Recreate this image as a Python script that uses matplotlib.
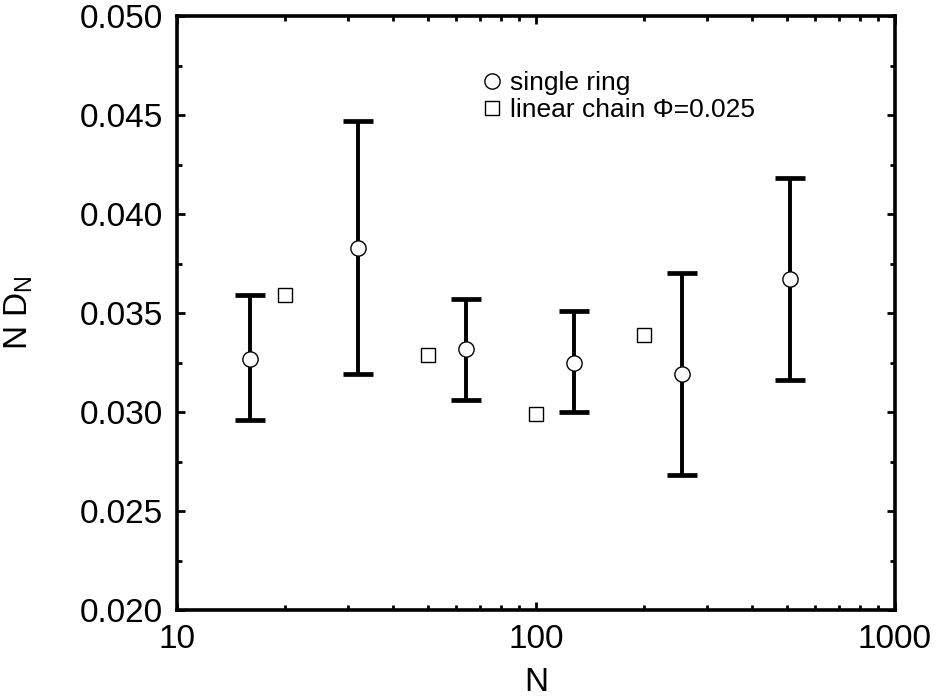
import numpy as np
import matplotlib
matplotlib.use("Agg")
import matplotlib.pyplot as plt
import matplotlib.ticker as ticker

plt.rcParams["font.family"] = ["Liberation Sans", "DejaVu Sans"]
plt.rcParams["mathtext.fontset"] = "custom"
plt.rcParams["mathtext.rm"] = "Liberation Sans"
plt.rcParams["mathtext.it"] = "Liberation Sans"

# single ring: N, N*D_N and error bar ends
ring_n = [16, 32, 64, 128, 256, 512]
ring_y = [0.0327, 0.0383, 0.0332, 0.0325, 0.0319, 0.0367]
ring_lo = [0.0296, 0.0319, 0.0306, 0.0300, 0.0268, 0.0316]
ring_hi = [0.0359, 0.0447, 0.0357, 0.0351, 0.0370, 0.0418]

# linear chain, phi = 0.025
chain_n = [20, 50, 100, 200]
chain_y = [0.0359, 0.0329, 0.0299, 0.0339]

FONTSIZE = 24

fig = plt.figure(figsize=(9.36, 6.98), dpi=100)
ax = fig.add_axes([0.189, 0.126, 0.767, 0.851])

yerr = [np.array(ring_y) - np.array(ring_lo), np.array(ring_hi) - np.array(ring_y)]
ax.errorbar(ring_n, ring_y, yerr=yerr, fmt="none", ecolor="black",
            elinewidth=2.8, capsize=11, capthick=3.4, zorder=2)
ax.plot(ring_n, ring_y, "o", ms=11, mfc="white", mec="black", mew=1.0,
        label="single ring", zorder=3)
ax.plot(chain_n, chain_y, "s", ms=9.5, mfc="white", mec="black", mew=1.0,
        label="linear chain \u03a6=0.025", zorder=3)

ax.set_xscale("log")
ax.set_xlim(10, 1000)
ax.set_ylim(0.020, 0.050)
ax.yaxis.set_major_locator(ticker.MultipleLocator(0.005))
ax.yaxis.set_minor_locator(ticker.MultipleLocator(0.0025))
ax.yaxis.set_major_formatter(ticker.FormatStrFormatter("%.3f"))
ax.xaxis.set_major_formatter(ticker.FuncFormatter(lambda v, p: f"{v:g}"))
ax.xaxis.set_minor_formatter(ticker.NullFormatter())

for s in ax.spines.values():
    s.set_linewidth(2.6)
ax.tick_params(which="both", direction="in", top=True, right=True,
               labelsize=FONTSIZE, width=2.0)
ax.tick_params(which="major", length=6, pad=10)
ax.tick_params(which="minor", length=3.5)

ax.set_xlabel("N", fontsize=FONTSIZE, labelpad=9)
ax.set_ylabel("N D$_{\\mathrm{N}}$", fontsize=FONTSIZE)
ax.yaxis.set_label_coords(-0.198, 0.5)

ax.legend(loc="upper left", bbox_to_anchor=(0.402, 0.925), frameon=False,
          fontsize=19, handletextpad=0.1, labelspacing=0.12, borderaxespad=0,
          handlelength=1.2)

fig.savefig("out.png", dpi=100)
